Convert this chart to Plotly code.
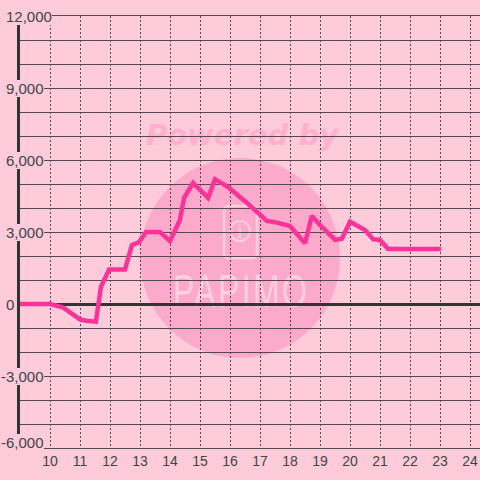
import base64
import plotly.graph_objects as go

# ---- data ----
hours = [9.0, 10.0, 10.43, 10.7, 11.0, 11.2, 11.53, 11.7, 11.97, 12.5, 12.73, 12.97,
         13.2, 13.67, 14.0, 14.33, 14.47, 14.77, 15.27, 15.5, 15.93, 16.33, 16.57,
         17.23, 17.57, 18.0, 18.5, 18.73, 19.0, 19.5, 19.73, 20.0, 20.27, 20.5,
         20.77, 21.0, 21.27, 23.03]
values = [0, 0, -140, -390, -640, -700, -735, 720, 1440, 1440, 2450, 2580,
          3000, 3000, 2620, 3500, 4420, 5050, 4420, 5200, 4880, 4460, 4210,
          3460, 3390, 3250, 2530, 3670, 3290, 2670, 2720, 3430, 3250, 3080,
          2700, 2670, 2290, 2290]
x_ticks = list(range(10, 25))
y_labels = [-6000, -3000, 0, 3000, 6000, 9000, 12000]

BG = "#fdcbda"
GRID = "#5a4652"
DARK = "#333333"
LINE = "#fb3399"
FONT = "Liberation Sans, Arial, sans-serif"

fig = go.Figure()
fig.add_trace(go.Scatter(x=hours, y=values, mode="lines",
                         line=dict(color=LINE, width=4.5, shape="linear"),
                         hoverinfo="skip"))

# watermark as an SVG image (below the grid)
svg = """<svg xmlns="http://www.w3.org/2000/svg" width="480" height="480" viewBox="0 0 480 480">
<circle cx="240" cy="258" r="100" fill="#fcaacb"/>
<text x="242" y="145" text-anchor="middle" font-family="DejaVu Sans" font-weight="bold" font-style="italic" font-size="29" fill="#ffb0cd">Powered by</text>
<rect x="224" y="206" width="33" height="52" rx="5" fill="none" stroke="#fdd0de" stroke-width="2.5"/>
<circle cx="240" cy="231" r="10" fill="none" stroke="#fdd0de" stroke-width="2"/>
<text x="240" y="238" text-anchor="middle" font-family="DejaVu Serif" font-size="18" fill="#fdd0de">i</text>
<g transform="translate(240,307) scale(1,1.45)">
<text x="0" y="0" text-anchor="middle" font-family="Liberation Sans Narrow, Liberation Sans" font-size="32" textLength="134" lengthAdjust="spacing" fill="#fdd0de">PAPIMO</text>
</g>
</svg>"""
src = "data:image/svg+xml;base64," + base64.b64encode(svg.encode()).decode()
fig.add_layout_image(dict(source=src, xref="paper", yref="paper",
                          x=-20 / 460, y=1 + 16 / 432, sizex=480 / 460, sizey=480 / 432,
                          xanchor="left", yanchor="top", sizing="stretch", layer="below"))

for v in y_labels:
    fig.add_annotation(x=(6 - 20) / 460, xref="paper", y=v, yref="y",
                       text=f"{v:,}", showarrow=False, xanchor="left", yanchor="middle",
                       xshift=-5 if v < 0 else 0, yshift=6 if v == -6000 else 0,
                       bgcolor=BG, borderpad=0, borderwidth=0,
                       font=dict(family=FONT, size=15, color="#444444"))

fig.update_layout(
    width=480, height=480,
    margin=dict(l=20, r=0, t=16, b=32),
    paper_bgcolor=BG, plot_bgcolor="rgba(0,0,0,0)",
    showlegend=False,
    xaxis=dict(range=[9, 24.333], tickvals=x_ticks, ticktext=[str(t) for t in x_ticks],
               tickfont=dict(family=FONT, size=14, color="#444444"), ticks="",
               showgrid=True, gridcolor=GRID, gridwidth=1, griddash="2px,2px",
               zeroline=False, showline=True, mirror=True, linecolor=GRID, linewidth=1,
               fixedrange=True),
    yaxis=dict(range=[-6000, 12000], dtick=1000, tick0=0, showticklabels=False, ticks="",
               showgrid=True, gridcolor=GRID, gridwidth=1,
               zeroline=True, zerolinecolor=DARK, zerolinewidth=3,
               showline=True, linecolor=DARK, linewidth=3, fixedrange=True),
)

fig.write_html("out.html", config={"displayModeBar": False},
               post_script="document.body.style.margin='0';document.body.style.overflow='hidden';")
